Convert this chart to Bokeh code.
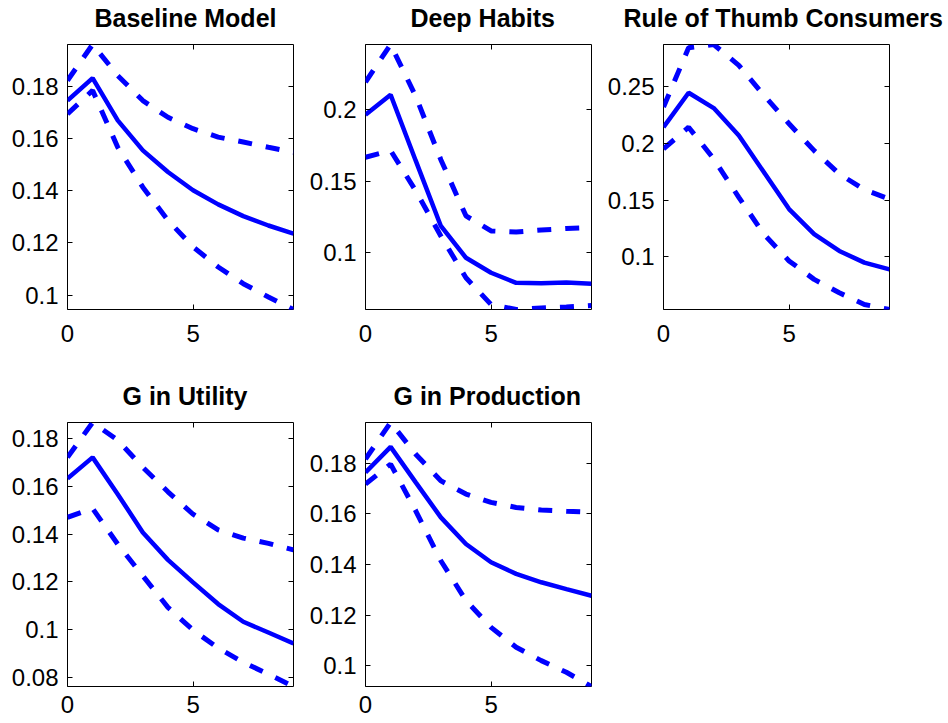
from bokeh.plotting import figure
from bokeh.models import (Range1d, FixedTicker, LinearAxis, CustomJSTickFormatter, Title)
from bokeh.layouts import row, column
from bokeh.embed import file_html
from bokeh.resources import INLINE

# ---------------- data ----------------
horizon = [0, 1, 2, 3, 4, 5, 6, 7, 8, 9]

baseline_mid = [0.1746, 0.1832, 0.1670, 0.1555, 0.1472, 0.1402, 0.1348, 0.1303, 0.1267, 0.1236]
baseline_up = [0.1823, 0.1961, 0.1842, 0.1746, 0.1682, 0.1638, 0.1606, 0.1587, 0.1567, 0.1548]
baseline_lo = [0.1695, 0.1785, 0.1567, 0.1414, 0.1287, 0.1185, 0.1108, 0.1044, 0.0993, 0.0945]

habits_mid = [0.1965, 0.2106, 0.1643, 0.1185, 0.0962, 0.0857, 0.0786, 0.0784, 0.0789, 0.0780]
habits_up = [0.2195, 0.2458, 0.2095, 0.1650, 0.1256, 0.1150, 0.1143, 0.1157, 0.1167, 0.1174]
habits_lo = [0.1667, 0.1714, 0.1432, 0.1115, 0.0822, 0.0634, 0.0599, 0.0610, 0.0617, 0.0627]

thumb_mid = [0.2141, 0.2444, 0.2309, 0.2068, 0.1744, 0.1421, 0.1200, 0.1053, 0.0950, 0.0891]
thumb_up = [0.2318, 0.2840, 0.2868, 0.2685, 0.2421, 0.2171, 0.1935, 0.1730, 0.1591, 0.1509]
thumb_lo = [0.1950, 0.2141, 0.1862, 0.1524, 0.1200, 0.0965, 0.0803, 0.0685, 0.0582, 0.0538]

utility_mid = [0.1633, 0.1721, 0.1567, 0.1407, 0.1292, 0.1198, 0.1107, 0.1033, 0.0988, 0.0942]
utility_up = [0.1721, 0.1867, 0.1793, 0.1679, 0.1577, 0.1483, 0.1418, 0.1383, 0.1361, 0.1334]
utility_lo = [0.1470, 0.1507, 0.1358, 0.1225, 0.1093, 0.0998, 0.0923, 0.0863, 0.0814, 0.0762]

production_mid = [0.1763, 0.1864, 0.1724, 0.1586, 0.1481, 0.1409, 0.1363, 0.1330, 0.1303, 0.1277]
production_up = [0.1816, 0.1960, 0.1835, 0.1730, 0.1678, 0.1645, 0.1625, 0.1615, 0.1610, 0.1606]
production_lo = [0.1717, 0.1796, 0.1612, 0.1415, 0.1258, 0.1152, 0.1074, 0.1021, 0.0975, 0.0919]

titles = ["Baseline Model", "Deep Habits", "Rule of Thumb Consumers", "G in Utility", "G in Production"]
x_ticks = [0, 5]
y_ticks_baseline = [0.1, 0.12, 0.14, 0.16, 0.18]
y_ticks_habits = [0.1, 0.15, 0.2]
y_ticks_thumb = [0.1, 0.15, 0.2, 0.25]
y_ticks_utility = [0.08, 0.1, 0.12, 0.14, 0.16, 0.18]
y_ticks_production = [0.1, 0.12, 0.14, 0.16, 0.18]

# ---------------- style ----------------
BLUE = "#0000ff"
FONT = "Liberation Sans"
TICK_FS = "24px"
TITLE_FS = "25px"
FRAME_W = 226
BORDER_TOP = 44

num_fmt = CustomJSTickFormatter(code="return Number(tick.toFixed(4)).toString();")


def hidden_axis(ticks, gap=None):
    ax = LinearAxis(ticker=FixedTicker(ticks=ticks),
                    formatter=CustomJSTickFormatter(code="return '';"),
                    major_label_text_font_size="1px", major_label_standoff=0,
                    major_tick_in=5, major_tick_out=0, minor_tick_line_color=None,
                    axis_line_color=None, major_tick_line_color="black")
    if gap is not None:
        # a blank axis label keeps the panel title clear of the frame
        ax.axis_label = " "
        ax.axis_label_text_font_size = "1px"
        ax.axis_label_standoff = gap
    return ax


def panel(title, mid, up, lo, yticks, border_left, border_right, frame_h, border_bottom,
          title_dx, x_standoff):
    ymin = min(min(mid), min(up), min(lo))
    ymax = max(max(mid), max(up), max(lo))
    width = border_left + FRAME_W + border_right
    height = BORDER_TOP + frame_h + border_bottom
    p = figure(width=width, height=height, output_backend="svg", toolbar_location=None,
               x_range=Range1d(0, 9), y_range=Range1d(ymin, ymax),
               min_border_left=border_left, min_border_right=border_right,
               min_border_top=BORDER_TOP, min_border_bottom=border_bottom)
    p.title = Title(text=title, text_font=FONT, text_font_size=TITLE_FS, text_font_style="bold",
                    text_color="black", align="left", offset=title_dx, standoff=0)
    p.grid.visible = False
    p.outline_line_color = "black"
    p.outline_line_width = 1
    p.background_fill_color = "white"
    p.border_fill_color = "white"
    for ax, ticks in ((p.xaxis[0], x_ticks), (p.yaxis[0], yticks)):
        ax.ticker = FixedTicker(ticks=ticks)
        ax.formatter = num_fmt
        ax.major_tick_in = 5
        ax.major_tick_out = 0
        ax.minor_tick_line_color = None
        ax.axis_line_color = None
        ax.major_tick_line_color = "black"
        ax.major_label_text_font = FONT
        ax.major_label_text_font_size = TICK_FS
        ax.major_label_text_color = "black"
    p.xaxis[0].major_label_standoff = x_standoff
    p.yaxis[0].major_label_standoff = 9
    p.add_layout(hidden_axis(yticks), "right")
    p.add_layout(hidden_axis(x_ticks, gap=9), "above")

    p.line(horizon, up, line_color=BLUE, line_width=5, line_dash="14 14")
    p.line(horizon, lo, line_color=BLUE, line_width=5, line_dash="14 14")
    p.line(horizon, mid, line_color=BLUE, line_width=4.5)
    return p


p1 = panel(titles[0], baseline_mid, baseline_up, baseline_lo, y_ticks_baseline, 67, 13, 265, 69, 27, 15)
p2 = panel(titles[1], habits_mid, habits_up, habits_lo, y_ticks_habits, 59, 13, 265, 69, 45, 15)
p3 = panel(titles[2], thumb_mid, thumb_up, thumb_lo, y_ticks_thumb, 59, 59, 265, 69, -40, 15)
p4 = panel(titles[3], utility_mid, utility_up, utility_lo, y_ticks_utility, 67, 13, 264, 37, 55, 9)
p5 = panel(titles[4], production_mid, production_up, production_lo, y_ticks_production, 59, 13, 264, 37, 28, 9)

layout = column(row(p1, p2, p3), row(p4, p5))

open("out.html", "w").write(file_html(layout, INLINE))
